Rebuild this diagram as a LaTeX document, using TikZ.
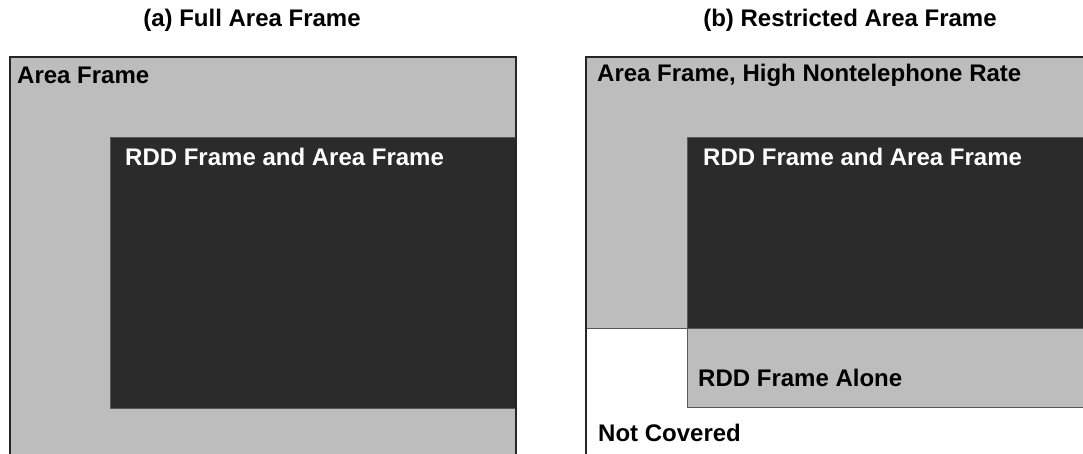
\documentclass[tikz,border=0pt]{standalone}
\usepackage{fontspec}
\setmainfont{Liberation Sans}
\usepackage{tikz}

\definecolor{areagray}{RGB}{189,189,189}
\definecolor{rddgray}{RGB}{43,43,43}

\tikzset{
	frametitle/.style={font=\fontsize{24}{28}\selectfont\bfseries,inner sep=0pt},
	framelabel/.style={font=\fontsize{24}{28}\selectfont\bfseries,inner sep=0pt,anchor=west},
	outerframe/.style={draw=black!85,line width=1.6pt},
	innerframe/.style={draw=black!65,line width=1pt}
}

\begin{document}
\begin{tikzpicture}[x=1pt,y=-1pt]
		\useasboundingbox (0,0) rectangle (1083,453);
		\clip (0,0) rectangle (1083,453);
		% titles
		\node [frametitle] (Ta) at (252,20) {(a) Full Area Frame};
		\node [frametitle] (Tb) at (850,20) {(b) Restricted Area Frame};
		% panel (a)
		\draw [outerframe,fill=areagray] (10,57) rectangle (516,470);
		\draw [innerframe,fill=rddgray] (110,137) rectangle (516,408);
		\draw [outerframe] (516,57) -- (516,470);
		\node [framelabel] (A1) at (17,75) {Area Frame};
		\node [framelabel,text=white] (A2) at (125,157) {RDD Frame and Area Frame};
		% panel (b)
		\draw [outerframe,fill=white] (586,57) rectangle (1100,470);
		\draw [innerframe,fill=areagray] (586,57) rectangle (1100,328);
		\draw [innerframe,fill=rddgray] (687,137) rectangle (1100,328);
		\draw [innerframe,fill=areagray] (687,328) rectangle (1100,407);
		\draw [outerframe] (586,57) -- (1100,57);
		\draw [outerframe] (586,57) -- (586,470);
		\node [framelabel] (B1) at (597,75) {Area Frame, High Nontelephone Rate};
		\node [framelabel,text=white] (B2) at (703,157) {RDD Frame and Area Frame};
		\node [framelabel] (B3) at (698,378) {RDD Frame Alone};
		\node [framelabel] (B4) at (598,433) {Not Covered};
\end{tikzpicture}
\end{document}
